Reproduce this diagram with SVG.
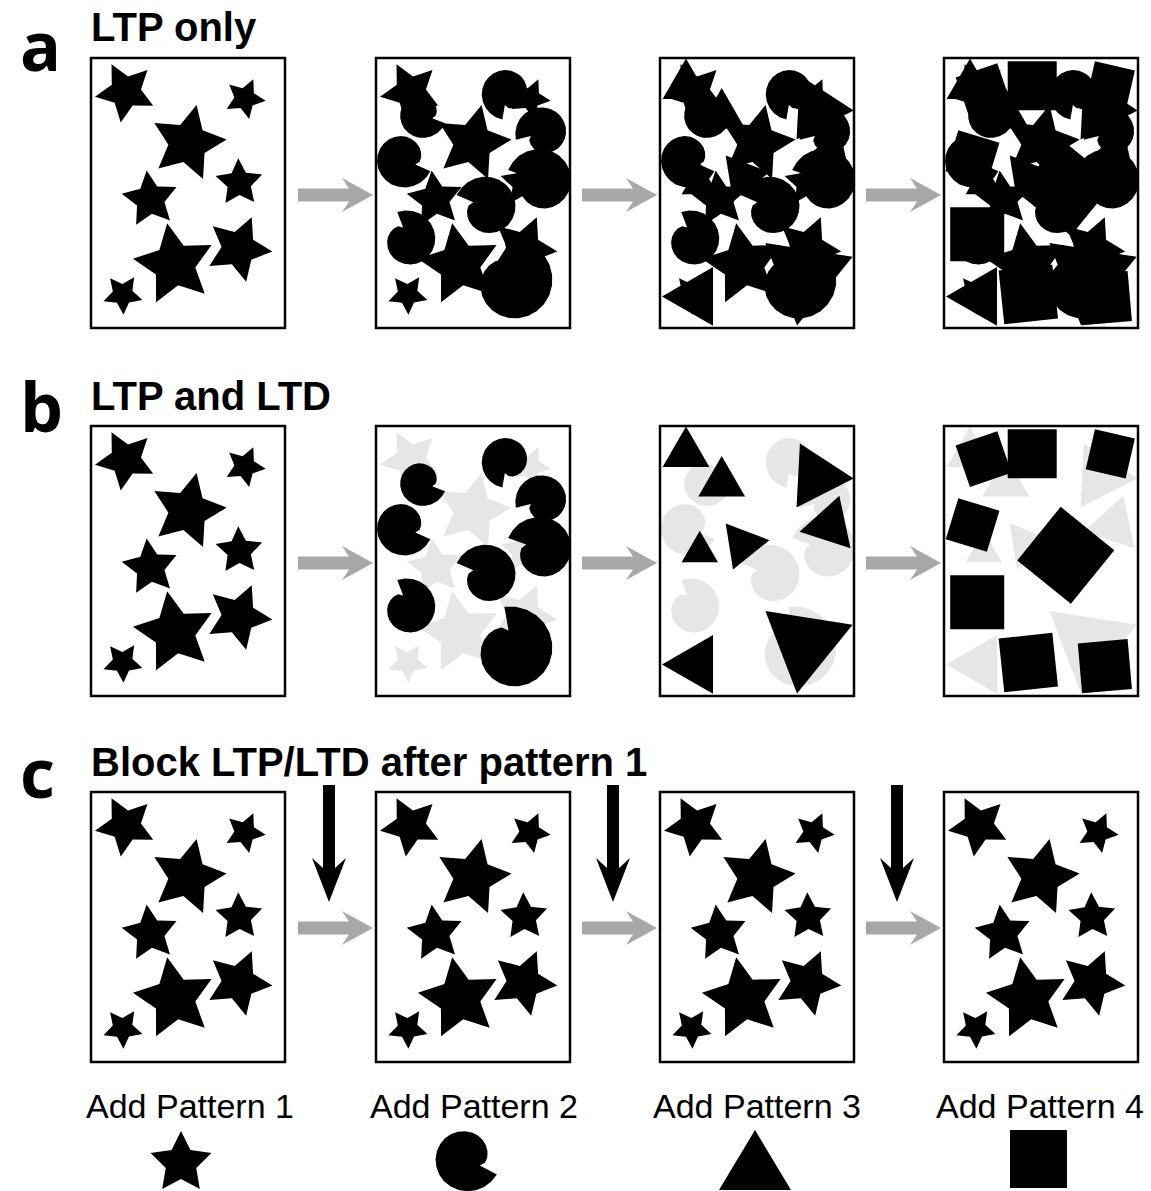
<svg xmlns="http://www.w3.org/2000/svg" xmlns:xlink="http://www.w3.org/1999/xlink" width="1151" height="1191" viewBox="0 0 1151 1191">
<style>
.frame{fill:none;stroke:#000;stroke-width:2.5}
.letter{font-family:"Open Sans","DejaVu Sans",sans-serif;font-weight:700;font-size:68px;fill:#000}
.title{font-family:"Liberation Sans",Arial,sans-serif;font-weight:700;font-size:40px;fill:#000}
.label{font-family:"Liberation Sans",Arial,sans-serif;font-size:34px;fill:#000;text-anchor:middle}
.garrow{fill:#a8a8a8}
.barrow{fill:#000}
.blk{fill:#000}
.gry{fill:#e6e6e6}
</style>
<defs>
<clipPath id="pc"><rect x="0" y="0" width="194" height="270"/></clipPath>
<path id="star" d="M0,-1 L0.294,-0.405 L0.951,-0.309 L0.476,0.155 L0.588,0.809 L0,0.5 L-0.588,0.809 L-0.476,0.155 L-0.951,-0.309 L-0.294,-0.405 Z"/>
<path id="spiral" d="M0.45,0 L0.543,-0.145 L0.527,-0.305 L0.455,-0.455 L0.337,-0.584 L0.181,-0.677 L0,-0.725 L-0.193,-0.722 L-0.384,-0.664 L-0.556,-0.556 L-0.697,-0.403 L-0.794,-0.213 L-0.839,0 L-0.826,0.221 L-0.753,0.435 L-0.626,0.626 L-0.45,0.779 L-0.236,0.882 L0,0.926 L0.243,0.907 L0.476,0.824 L0.682,0.682 L0.845,0.488 L0.954,0.256 L1,0 Z"/>
<path id="tri" d="M0,-1 L0.866,0.5 L-0.866,0.5 Z"/>
<path id="sq" d="M-0.5,-0.5 H0.5 V0.5 H-0.5 Z"/>
<g id="p1">
<use xlink:href="#star" transform="translate(34.6,33.8) rotate(-27) scale(31)"/>
<use xlink:href="#star" transform="translate(153.8,40.5) rotate(24) scale(21)"/>
<use xlink:href="#star" transform="translate(96.8,85) rotate(13) scale(39)"/>
<use xlink:href="#star" transform="translate(148.1,124.8) rotate(-2) scale(24.5)"/>
<use xlink:href="#star" transform="translate(59.2,141.3) rotate(-7) scale(29)"/>
<use xlink:href="#star" transform="translate(83.5,206.6) rotate(-10) scale(42)"/>
<use xlink:href="#star" transform="translate(147.5,190.5) rotate(23) scale(34)"/>
<use xlink:href="#star" transform="translate(31.7,236.3) rotate(34) scale(20.5)"/>
</g>
<g id="p2">
<use xlink:href="#spiral" transform="translate(131,35) rotate(100) scale(27)"/>
<use xlink:href="#spiral" transform="translate(45.7,56.3) rotate(21) scale(25)"/>
<use xlink:href="#spiral" transform="translate(167,75) rotate(166) scale(28)"/>
<use xlink:href="#spiral" transform="translate(27,101) rotate(24) scale(30)"/>
<use xlink:href="#spiral" transform="translate(165,124) rotate(200) scale(35)"/>
<use xlink:href="#spiral" transform="translate(111,150) rotate(203) scale(33)"/>
<use xlink:href="#spiral" transform="translate(32,182) rotate(249) scale(30)"/>
<use xlink:href="#spiral" transform="translate(136,224) rotate(260) scale(44)"/>
</g>
<g id="p3">
<use xlink:href="#tri" transform="translate(26,27.5) scale(27)"/>
<use xlink:href="#tri" transform="translate(61.7,57) scale(27)"/>
<use xlink:href="#tri" transform="translate(39.8,125.8) scale(21)"/>
<use xlink:href="#tri" transform="translate(82.7,118.4) rotate(81) scale(27)"/>
<use xlink:href="#tri" transform="translate(156.7,50.5) rotate(93) scale(37)"/>
<use xlink:href="#tri" transform="translate(169.8,99.3) rotate(258) scale(31)"/>
<use xlink:href="#tri" transform="translate(36,238.4) rotate(270) scale(34)"/>
<use xlink:href="#tri" transform="translate(145,217.1) rotate(189) scale(51)"/>
</g>
<g id="p4">
<use xlink:href="#sq" transform="translate(39.6,33.1) rotate(-19) scale(44)"/>
<use xlink:href="#sq" transform="translate(88.2,27.8) scale(49)"/>
<use xlink:href="#sq" transform="translate(166.3,27.8) rotate(13) scale(41)"/>
<use xlink:href="#sq" transform="translate(28.6,99) rotate(17) scale(43)"/>
<use xlink:href="#sq" transform="translate(121.75,129.3) rotate(39) scale(69)"/>
<use xlink:href="#sq" transform="translate(33.2,176.2) scale(54)"/>
<use xlink:href="#sq" transform="translate(84.3,236.5) rotate(-6) scale(54)"/>
<use xlink:href="#sq" transform="translate(160.85,240.2) rotate(-5) scale(50)"/>
</g>
<path id="garr" d="M0,-6.5 H51 L44,-17 L75,0 L44,17 L51,6.5 H0 Z"/>
<path id="barr" d="M-6,0 H6 V83 L17,73 L0,117 L-17,73 L-6,83 Z"/>
</defs>

<g id="labels">
<text class="letter" x="20" y="71">a</text>
<text class="title" x="91" y="41">LTP only</text>
<text class="letter" x="20" y="432">b</text>
<text class="title" x="91" y="410">LTP and LTD</text>
<text class="letter" x="20" y="798">c</text>
<text class="title" x="91" y="776">Block LTP/LTD after pattern 1</text>
</g>

<g id="row-a">
<g id="a1" transform="translate(91,58)"><g clip-path="url(#pc)" class="blk"><use xlink:href="#p1"/></g><rect class="frame" width="194" height="270"/></g>
<g id="a2" transform="translate(376,58)"><g clip-path="url(#pc)" class="blk"><use xlink:href="#p1"/><use xlink:href="#p2"/></g><rect class="frame" width="194" height="270"/></g>
<g id="a3" transform="translate(660,58)"><g clip-path="url(#pc)" class="blk"><use xlink:href="#p1"/><use xlink:href="#p2"/><use xlink:href="#p3"/></g><rect class="frame" width="194" height="270"/></g>
<g id="a4" transform="translate(944,58)"><g clip-path="url(#pc)" class="blk"><use xlink:href="#p1"/><use xlink:href="#p2"/><use xlink:href="#p3"/><use xlink:href="#p4"/></g><rect class="frame" width="194" height="270"/></g>
</g>

<g id="row-b">
<g id="b1" transform="translate(91,426)"><g clip-path="url(#pc)" class="blk"><use xlink:href="#p1"/></g><rect class="frame" width="194" height="270"/></g>
<g id="b2" transform="translate(376,426)"><g clip-path="url(#pc)"><use xlink:href="#p1" class="gry"/><use xlink:href="#p2" class="blk"/></g><rect class="frame" width="194" height="270"/></g>
<g id="b3" transform="translate(660,426)"><g clip-path="url(#pc)"><use xlink:href="#p2" class="gry"/><use xlink:href="#p3" class="blk"/></g><rect class="frame" width="194" height="270"/></g>
<g id="b4" transform="translate(944,426)"><g clip-path="url(#pc)"><use xlink:href="#p3" class="gry"/><use xlink:href="#p4" class="blk"/></g><rect class="frame" width="194" height="270"/></g>
</g>

<g id="row-c">
<g id="c1" transform="translate(91,792)"><g clip-path="url(#pc)" class="blk"><use xlink:href="#p1"/></g><rect class="frame" width="194" height="270"/></g>
<g id="c2" transform="translate(376,792)"><g clip-path="url(#pc)" class="blk"><use xlink:href="#p1"/></g><rect class="frame" width="194" height="270"/></g>
<g id="c3" transform="translate(660,792)"><g clip-path="url(#pc)" class="blk"><use xlink:href="#p1"/></g><rect class="frame" width="194" height="270"/></g>
<g id="c4" transform="translate(944,792)"><g clip-path="url(#pc)" class="blk"><use xlink:href="#p1"/></g><rect class="frame" width="194" height="270"/></g>
</g>

<g id="connectors">
<use xlink:href="#garr" class="garrow" x="298" y="195"/>
<use xlink:href="#garr" class="garrow" x="582" y="195"/>
<use xlink:href="#garr" class="garrow" x="866" y="195"/>
<use xlink:href="#garr" class="garrow" x="298" y="563"/>
<use xlink:href="#garr" class="garrow" x="582" y="563"/>
<use xlink:href="#garr" class="garrow" x="866" y="563"/>
<use xlink:href="#garr" class="garrow" x="298" y="928"/>
<use xlink:href="#garr" class="garrow" x="582" y="928"/>
<use xlink:href="#garr" class="garrow" x="866" y="928"/>
<use xlink:href="#barr" class="barrow" x="329" y="785"/>
<use xlink:href="#barr" class="barrow" x="613" y="785"/>
<use xlink:href="#barr" class="barrow" x="897" y="785"/>
</g>

<g id="legend">
<g id="leg1"><text class="label" x="190" y="1118">Add Pattern 1</text><use xlink:href="#star" class="blk" transform="translate(181,1163) scale(32)"/></g>
<g id="leg2"><text class="label" x="474" y="1118">Add Pattern 2</text><use xlink:href="#spiral" class="blk" transform="translate(466,1158) rotate(28) scale(35)"/></g>
<g id="leg3"><text class="label" x="757" y="1118">Add Pattern 3</text><path class="blk" d="M755,1130 L791,1190 L719,1190 Z"/></g>
<g id="leg4"><text class="label" x="1040" y="1118">Add Pattern 4</text><rect class="blk" x="1010" y="1130" width="57" height="58"/></g>
</g>
</svg>
